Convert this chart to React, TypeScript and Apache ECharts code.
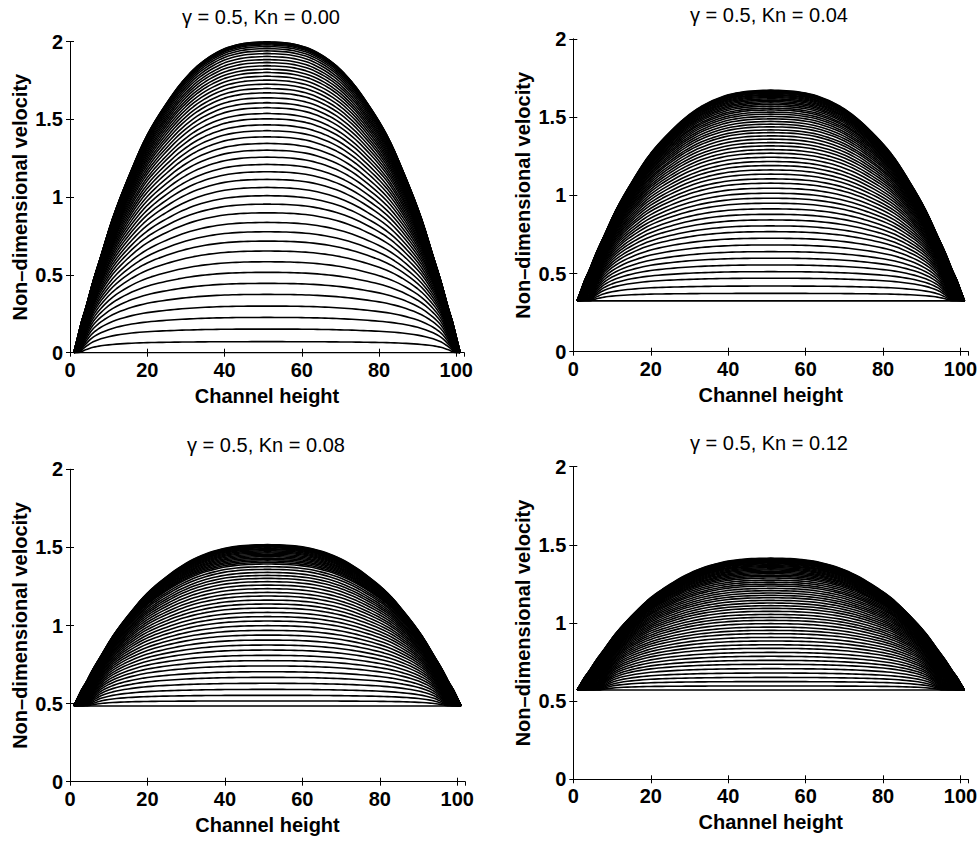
import React, { useEffect, useRef } from "react";
import * as echarts from "echarts";

// ---------------- data ----------------
const TITLES = ["γ = 0.5, Kn = 0.00", "γ = 0.5, Kn = 0.04", "γ = 0.5, Kn = 0.08", "γ = 0.5, Kn = 0.12"];
const X_NAME = "Channel height";
const Y_NAME = "Non–dimensional velocity";
const X_MIN = 0;
const X_MAX = 102;
const X_STEP = 20;
const Y_MIN = 0;
const Y_MAX = 2;
const Y_STEP = 0.5;

// channel walls (channel-height coordinate)
const WALL_LEFT = 1;
const WALL_RIGHT = 101;

// wall (slip) velocity of every profile, per panel
const WALL_VELOCITY = [0, 0.325, 0.485, 0.571];

// centre-line (peak) velocity of each profile, per panel
const PEAKS_KN000 = [0, 0.071, 0.152, 0.227, 0.3, 0.375, 0.446, 0.517, 0.585, 0.654, 0.718, 0.778, 0.838, 0.9, 0.956, 1.01, 1.063, 1.115, 1.164, 1.211, 1.258, 1.303, 1.346, 1.389, 1.428, 1.466, 1.505, 1.539, 1.576, 1.608, 1.64, 1.672, 1.7, 1.728, 1.754, 1.779, 1.803, 1.824, 1.846, 1.867, 1.886, 1.906, 1.925, 1.942, 1.957, 1.97, 1.98, 1.987, 1.992, 1.996, 1.999, 2.0];
const PEAKS_KN004 = [0.325, 0.373, 0.42, 0.47, 0.512, 0.555, 0.598, 0.64, 0.683, 0.726, 0.768, 0.805, 0.843, 0.879, 0.914, 0.95, 0.982, 1.014, 1.046, 1.078, 1.106, 1.136, 1.163, 1.191, 1.217, 1.244, 1.27, 1.293, 1.317, 1.338, 1.36, 1.381, 1.402, 1.419, 1.439, 1.456, 1.473, 1.49, 1.505, 1.52, 1.533, 1.547, 1.558, 1.571, 1.582, 1.592, 1.601, 1.61, 1.618, 1.626, 1.633, 1.64, 1.646, 1.652, 1.657, 1.662, 1.666, 1.67, 1.673];
const PEAKS_KN008 = [0.485, 0.517, 0.553, 0.591, 0.63, 0.668, 0.704, 0.741, 0.775, 0.809, 0.843, 0.875, 0.907, 0.939, 0.969, 0.999, 1.029, 1.057, 1.084, 1.112, 1.138, 1.163, 1.189, 1.212, 1.236, 1.259, 1.281, 1.302, 1.321, 1.34, 1.36, 1.377, 1.394, 1.404, 1.414, 1.423, 1.432, 1.441, 1.449, 1.457, 1.465, 1.472, 1.479, 1.486, 1.492, 1.498, 1.503, 1.508, 1.512, 1.515, 1.518];
const PEAKS_KN012 = [0.571, 0.597, 0.625, 0.652, 0.68, 0.708, 0.736, 0.761, 0.787, 0.812, 0.838, 0.861, 0.885, 0.908, 0.932, 0.953, 0.974, 0.996, 1.017, 1.036, 1.055, 1.075, 1.094, 1.111, 1.128, 1.145, 1.162, 1.177, 1.192, 1.207, 1.222, 1.237, 1.249, 1.262, 1.275, 1.288, 1.298, 1.307, 1.316, 1.324, 1.332, 1.34, 1.347, 1.354, 1.361, 1.367, 1.373, 1.379, 1.384, 1.389, 1.394, 1.398, 1.402, 1.406, 1.409, 1.412, 1.415];
const PEAKS = [PEAKS_KN000, PEAKS_KN004, PEAKS_KN008, PEAKS_KN012];

// where the earliest profiles leave the wall velocity (distance from wall), per panel
const EARLY_FOOT = [1.5, 3.5, 3.7, 6];

// normalised shape of the outermost (developed) profile vs distance from the wall
const DEV_DIST = [0, 1, 2, 3, 5, 7, 10, 14, 19, 25, 28, 32, 36, 40, 45, 50];
const DEV_SHAPE = [0, 0.05, 0.1, 0.14, 0.23, 0.31, 0.43, 0.56, 0.7, 0.82, 0.87, 0.922, 0.958, 0.982, 0.996, 1];

// normalised shape of the earliest profiles vs distance from their foot
const EARLY_DIST = [0, 1, 2, 3.5, 6, 10, 15, 20, 30, 40, 50];
const EARLY_SHAPE = [0, 0.2, 0.36, 0.55, 0.72, 0.86, 0.94, 0.97, 0.99, 0.998, 1];

// ---------------- layout ----------------
const GRIDS = [
  { left: 70, top: 41.7, width: 394, height: 311 },
  { left: 573.3, top: 39, width: 395, height: 312.7 },
  { left: 70, top: 469.3, width: 395, height: 312.4 },
  { left: 573.3, top: 466.7, width: 395, height: 312.6 },
];
const TITLE_POS = [
  [261, 16.5],
  [769, 15],
  [266, 445],
  [769, 443],
];
const FONT = "'Liberation Sans', Arial, Helvetica, sans-serif";

// monotone cubic (Fritsch–Carlson) through a read-off table
function makeMonotone(xs: number[], ys: number[]) {
  const n = xs.length;
  const d: number[] = [];
  const m: number[] = new Array(n).fill(0);
  for (let i = 0; i < n - 1; i++) d.push((ys[i + 1] - ys[i]) / (xs[i + 1] - xs[i]));
  m[0] = d[0];
  m[n - 1] = d[n - 2];
  for (let i = 1; i < n - 1; i++) {
    if (d[i - 1] * d[i] <= 0) m[i] = 0;
    else m[i] = (2 * d[i - 1] * d[i]) / (d[i - 1] + d[i]);
  }
  return (x: number) => {
    if (x <= xs[0]) return ys[0];
    if (x >= xs[n - 1]) return ys[n - 1];
    let i = 0;
    while (i < n - 2 && x > xs[i + 1]) i++;
    const h = xs[i + 1] - xs[i];
    const t = (x - xs[i]) / h;
    const t2 = t * t;
    const t3 = t2 * t;
    return (
      (2 * t3 - 3 * t2 + 1) * ys[i] +
      (t3 - 2 * t2 + t) * h * m[i] +
      (-2 * t3 + 3 * t2) * ys[i + 1] +
      (t3 - t2) * h * m[i + 1]
    );
  };
}
const devShape = makeMonotone(DEV_DIST, DEV_SHAPE);
const earlyShape = makeMonotone(EARLY_DIST, EARLY_SHAPE);

function sampleDistances(half: number): number[] {
  const out: number[] = [];
  for (let s = 0; s < 8; s += 0.5) out.push(s);
  for (let s = 8; s <= half + 1e-9; s += 1) out.push(s);
  return out;
}

function profile(panel: number, peak: number): number[][] {
  const base = WALL_VELOCITY[panel];
  const peaks = PEAKS[panel];
  const top = peaks[peaks.length - 1];
  const f = top > base ? Math.max(0, (peak - base) / (top - base)) : 0;
  const w = Math.sqrt(f);
  const foot = EARLY_FOOT[panel];
  const half = (WALL_RIGHT - WALL_LEFT) / 2;
  const amp = peak - base;
  const value = (s: number) => {
    const ge = s - foot <= 0 ? 0 : earlyShape(s - foot);
    const gl = devShape(s);
    const g = (1 - w) * ge + w * gl;
    return base + amp * g;
  };
  const ds = sampleDistances(half);
  const left = ds.map((s) => [WALL_LEFT + s, value(s)]);
  const right = ds
    .filter((s) => s < half - 1e-9)
    .reverse()
    .map((s) => [WALL_RIGHT - s, value(s)]);
  return left.concat(right);
}

export default function App() {
  const ref = useRef<HTMLDivElement>(null);
  useEffect(() => {
    if (!ref.current) return;
    const chart = echarts.init(ref.current, undefined, { renderer: "svg" });
    const axisLine = { show: true, lineStyle: { color: "#000", width: 1 } };
    const tick = { show: true, inside: true, length: 4, lineStyle: { color: "#000", width: 1 } };
    const labelStyle = { color: "#000", fontFamily: FONT, fontWeight: "bold" as const, fontSize: 20 };
    const xAxis: any[] = [];
    const yAxis: any[] = [];
    const grid: any[] = [];
    const series: any[] = [];
    const graphic: any[] = [];
    GRIDS.forEach((g, i) => {
      grid.push({ ...g, outerBoundsMode: "none", containLabel: false });
      xAxis.push({
        type: "value", gridIndex: i, min: X_MIN, max: X_MAX, interval: X_STEP, position: "bottom",
        axisLine, axisTick: tick, splitLine: { show: false },
        axisLabel: { ...labelStyle, margin: 7, showMaxLabel: false },
        name: X_NAME, nameLocation: "middle", nameGap: 33,
        nameTextStyle: { ...labelStyle },
      });
      xAxis.push({
        type: "value", gridIndex: i, min: X_MIN, max: X_MAX, interval: X_STEP, position: "top",
        axisLine, axisTick: tick, splitLine: { show: false }, axisLabel: { show: false },
      });
      yAxis.push({
        type: "value", gridIndex: i, min: Y_MIN, max: Y_MAX, interval: Y_STEP, position: "left",
        axisLine, axisTick: tick, splitLine: { show: false },
        axisLabel: { ...labelStyle, margin: 7 },
        name: Y_NAME, nameLocation: "middle", nameGap: 40,
        nameTextStyle: { ...labelStyle },
      });
      yAxis.push({
        type: "value", gridIndex: i, min: Y_MIN, max: Y_MAX, interval: Y_STEP, position: "right",
        axisLine, axisTick: tick, splitLine: { show: false }, axisLabel: { show: false },
      });
      PEAKS[i].forEach((p) => {
        series.push({
          type: "line", xAxisIndex: 2 * i, yAxisIndex: 2 * i,
          data: profile(i, p), showSymbol: false, symbol: "none", silent: true,
          lineStyle: { color: "#000", width: 1.6 }, emphasis: { disabled: true },
          clip: true,
        });
      });
      graphic.push({
        type: "text", x: TITLE_POS[i][0], y: TITLE_POS[i][1],
        style: { text: TITLES[i], fill: "#000", font: `normal 20px ${FONT}`, textAlign: "center", textVerticalAlign: "middle" },
      });
    });
    chart.setOption({
      animation: false,
      backgroundColor: "#fff",
      grid, xAxis, yAxis, series, graphic,
      tooltip: { show: false },
    });
    return () => chart.dispose();
  }, []);
  return <div ref={ref} style={{ position: "absolute", left: 0, top: 0, width: 979, height: 841 }} />;
}
